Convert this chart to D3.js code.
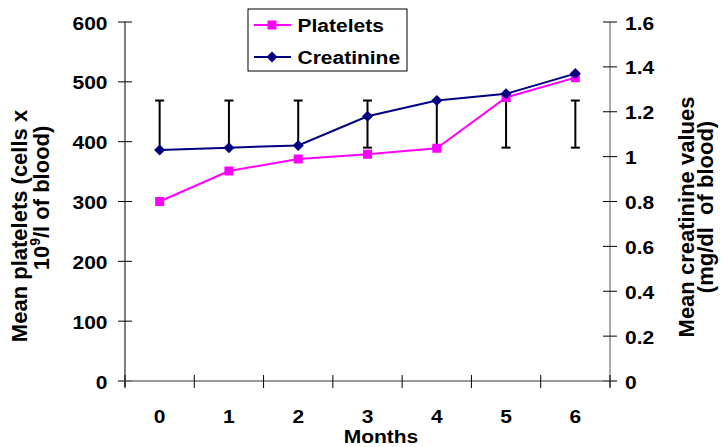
<!DOCTYPE html>
<html>
<head>
    <meta charset="utf-8">
    <script src="https://d3js.org/d3.v7.min.js" charset="utf-8"></script>
    <style>
        html, body { margin: 0; padding: 0; background: #fff; }
        text { font-family: Arial, "Liberation Sans", sans-serif; font-weight: bold; fill: #000; white-space: pre; }
    </style>
</head>
<body>
<div id="chart"></div>
<script>
    // chart values
    const months = ["0", "1", "2", "3", "4", "5", "6"];
    const platelets = [300, 351, 371, 379, 389, 474, 507];
    const creatinine = [1.03, 1.04, 1.05, 1.18, 1.25, 1.28, 1.37];
    const creatLow = [1.03, 1.04, 1.05, 1.04, 1.04, 1.04, 1.04];
    const creatHigh = [1.25, 1.25, 1.25, 1.25, 1.25, 1.25, 1.25];
    const leftTicks = [0, 100, 200, 300, 400, 500, 600];
    const rightTicks = [0, 0.2, 0.4, 0.6, 0.8, 1, 1.2, 1.4, 1.6];

    const width = 725, height = 447;
    const plot = { left: 125, right: 610, top: 22, bottom: 381 };

    const svg = d3.select("#chart").append("svg")
        .attr("width", width)
        .attr("height", height);

    const x = d3.scaleBand().domain(months).range([plot.left, plot.right]);
    const yLeft = d3.scaleLinear().domain([0, 600]).range([plot.bottom, plot.top]);
    const yRight = d3.scaleLinear().domain([0, 1.6]).range([plot.bottom, plot.top]);
    const cx = d => x(d) + x.bandwidth() / 2;

    // horizontal labels look a bit squashed vertically in the original
    function flatText(parent, px, py, str, anchor, size) {
        return parent.append("text")
            .attr("transform", `translate(${px},${py}) scale(1,0.84)`)
            .attr("text-anchor", anchor)
            .style("font-size", size + "px")
            .text(str);
    }

    // left axis
    const gl = svg.append("g");
    gl.append("line")
        .attr("x1", plot.left).attr("x2", plot.left)
        .attr("y1", plot.top).attr("y2", plot.bottom + 6)
        .attr("stroke", "#000");
    leftTicks.forEach(t => {
        gl.append("line")
            .attr("x1", plot.left - 7).attr("x2", plot.left + 7)
            .attr("y1", yLeft(t)).attr("y2", yLeft(t))
            .attr("stroke", "#000");
        flatText(gl, 107.5, yLeft(t) + 7.5, t, "end", 21);
    });

    // right axis
    const gr = svg.append("g");
    gr.append("line")
        .attr("x1", plot.right).attr("x2", plot.right)
        .attr("y1", plot.top).attr("y2", plot.bottom + 6)
        .attr("stroke", "#555");
    rightTicks.forEach(t => {
        gr.append("line")
            .attr("x1", plot.right - 7).attr("x2", plot.right + 7)
            .attr("y1", yRight(t)).attr("y2", yRight(t))
            .attr("stroke", "#000");
        flatText(gr, 625, yRight(t) + 7.5, String(+t.toFixed(1)), "start", 21);
    });

    // bottom axis, ticks between the months
    const gb = svg.append("g");
    gb.append("line")
        .attr("x1", plot.left - 7).attr("x2", plot.right + 7)
        .attr("y1", plot.bottom).attr("y2", plot.bottom)
        .attr("stroke", "#777").attr("stroke-width", 1.5);
    months.concat([null]).forEach(m => {
        const bx = m === null ? plot.right : x(m);
        gb.append("line")
            .attr("x1", bx).attr("x2", bx)
            .attr("y1", plot.bottom - 6).attr("y2", plot.bottom + 7)
            .attr("stroke", "#000");
    });
    months.forEach(m => flatText(gb, cx(m), 423, m, "middle", 21));
    flatText(svg, 381, 443, "Months", "middle", 21);

    // axis titles
    svg.append("text")
        .attr("transform", "translate(27,226) rotate(-90)")
        .attr("text-anchor", "middle")
        .style("font-size", "22px")
        .text("Mean platelets (cells x");
    const lt2 = svg.append("text")
        .attr("transform", "translate(49,198) rotate(-90)")
        .attr("text-anchor", "middle")
        .style("font-size", "22px");
    lt2.append("tspan").text("10");
    lt2.append("tspan").attr("dy", -9).style("font-size", "14px").text("9");
    lt2.append("tspan").attr("dy", 9).text("/l of blood)");

    svg.append("text")
        .attr("transform", "translate(694,217) rotate(-90)")
        .attr("text-anchor", "middle")
        .style("font-size", "22px")
        .text("Mean creatinine values");
    svg.append("text")
        .attr("transform", "translate(713,207) rotate(-90)")
        .attr("text-anchor", "middle")
        .style("font-size", "22px")
        .text("(mg/dl  of blood)");

    // error bars (creatinine scale)
    const eb = svg.append("g").attr("stroke", "#000").attr("stroke-width", 2);
    months.forEach((m, i) => {
        eb.append("line")
            .attr("x1", cx(m)).attr("x2", cx(m))
            .attr("y1", yRight(creatLow[i])).attr("y2", yRight(creatHigh[i]));
        [creatLow[i], creatHigh[i]].forEach(v => {
            eb.append("line")
                .attr("x1", cx(m) - 4.5).attr("x2", cx(m) + 4.5)
                .attr("y1", yRight(v)).attr("y2", yRight(v));
        });
    });

    // platelets line
    svg.append("path")
        .datum(platelets)
        .attr("fill", "none")
        .attr("stroke", "#FF00FF")
        .attr("stroke-width", 2)
        .attr("d", d3.line().x((d, i) => cx(months[i])).y(d => yLeft(d)));
    svg.selectAll(".plt")
        .data(platelets)
        .enter().append("rect")
        .attr("class", "plt")
        .attr("x", (d, i) => cx(months[i]) - 4.5)
        .attr("y", d => yLeft(d) - 4.5)
        .attr("width", 9).attr("height", 9)
        .attr("fill", "#FF00FF");

    // creatinine line
    const diamond = (px, py, r) => `M${px},${py - r}L${px + r},${py}L${px},${py + r}L${px - r},${py}Z`;
    svg.append("path")
        .datum(creatinine)
        .attr("fill", "none")
        .attr("stroke", "#000080")
        .attr("stroke-width", 2)
        .attr("d", d3.line().x((d, i) => cx(months[i])).y(d => yRight(d)));
    svg.selectAll(".crt")
        .data(creatinine)
        .enter().append("path")
        .attr("class", "crt")
        .attr("d", (d, i) => diamond(cx(months[i]), yRight(d), 5.5))
        .attr("fill", "#000080");

    // legend
    const lg = svg.append("g");
    lg.append("rect")
        .attr("x", 248).attr("y", 9).attr("width", 159).attr("height", 62)
        .attr("fill", "#fff").attr("stroke", "#000");
    lg.append("line").attr("x1", 254).attr("x2", 291).attr("y1", 25).attr("y2", 25)
        .attr("stroke", "#FF00FF").attr("stroke-width", 2);
    lg.append("rect").attr("x", 267.5).attr("y", 20.5).attr("width", 9).attr("height", 9)
        .attr("fill", "#FF00FF");
    flatText(lg, 297.5, 32, "Platelets", "start", 21);
    lg.append("line").attr("x1", 254).attr("x2", 291).attr("y1", 57).attr("y2", 57)
        .attr("stroke", "#000080").attr("stroke-width", 2);
    lg.append("path").attr("d", diamond(272, 57, 5.5)).attr("fill", "#000080");
    flatText(lg, 297.5, 64, "Creatinine", "start", 21);
</script>
</body>
</html>
